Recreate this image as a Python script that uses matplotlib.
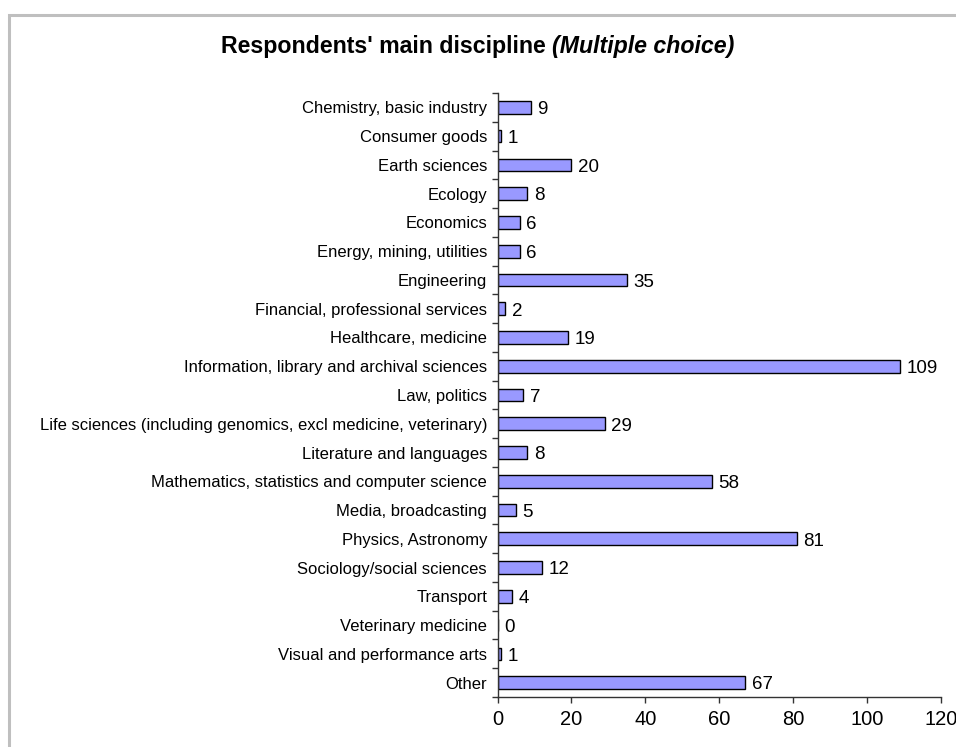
import matplotlib.pyplot as plt
from matplotlib.patches import Rectangle

# Respondents by main discipline (multiple answers allowed)
disciplinas = [
    'Chemistry, basic industry',
    'Consumer goods',
    'Earth sciences',
    'Ecology',
    'Economics',
    'Energy, mining, utilities',
    'Engineering',
    'Financial, professional services',
    'Healthcare, medicine',
    'Information, library and archival sciences',
    'Law, politics',
    'Life sciences (including genomics, excl medicine, veterinary)',
    'Literature and languages',
    'Mathematics, statistics and computer science',
    'Media, broadcasting',
    'Physics, Astronomy',
    'Sociology/social sciences',
    'Transport',
    'Veterinary medicine',
    'Visual and performance arts',
    'Other',
]
vastajaid = [9, 1, 20, 8, 6, 6, 35, 2, 19, 109, 7, 29, 8, 58, 5, 81, 12, 4, 0, 1, 67]
x_ticks = [0, 20, 40, 60, 80, 100, 120]

plt.rcParams['font.family'] = ['Liberation Sans', 'DejaVu Sans']

W, H = 956, 747
fig = plt.figure(figsize=(W / 100, H / 100), dpi=100)

# grey chart-area frame (runs off the right and bottom edges)
fig.patches.append(Rectangle((8.5 / W, -0.1), 1.2, 1 - 14.5 / H + 0.1,
                             transform=fig.transFigure, fill=False,
                             edgecolor='#bfbfbf', linewidth=2.2))

ax = fig.add_axes([497.5 / W, 1 - 697 / H, (941 - 497.5) / W, (697 - 93) / H])

n = len(disciplinas)
pos = list(range(n))
ax.barh(pos, vastajaid, height=0.44, color='#9999ff', edgecolor='black', linewidth=1)

for p, v in zip(pos, vastajaid):
    ax.text(v + 1.8, p + 0.08, str(v), va='center', ha='left', fontsize=13.5)

ax.set_ylim(n - 0.5, -0.5)
ax.set_xlim(0, 120)
ax.set_yticks(pos)
ax.set_yticklabels(disciplinas, fontsize=12)
ax.tick_params(axis='y', length=0, pad=7.5)
# category separators as outward ticks
ax.set_yticks([p - 0.5 for p in pos] + [n - 0.5], minor=True)
ax.tick_params(axis='y', which='minor', length=4.5, width=1, color='#333333')

ax.set_xticks(x_ticks)
ax.set_xticklabels([str(t) for t in x_ticks], fontsize=14.5)
ax.tick_params(axis='x', length=4.5, width=1, color='#333333', pad=5)

for side in ['top', 'right']:
    ax.spines[side].set_visible(False)
for side in ['left', 'bottom']:
    ax.spines[side].set_color('#333333')
    ax.spines[side].set_linewidth(1)

fig.text(552 / W, 1 - 47 / H, "Respondents' main discipline ", ha='right', va='center',
         fontsize=16.7, fontweight='bold')
fig.text(552 / W, 1 - 47 / H, "(Multiple choice)", ha='left', va='center',
         fontsize=16.7, fontweight='bold', style='italic')

fig.savefig('out.png', dpi=100)
